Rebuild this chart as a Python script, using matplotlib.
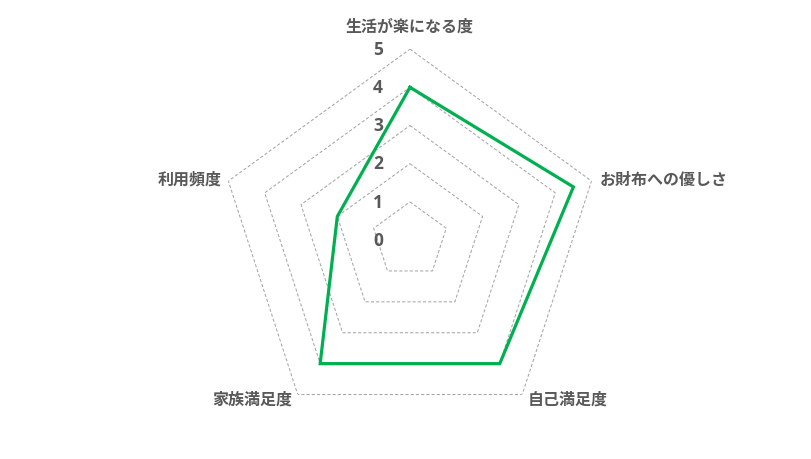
import numpy as np
import matplotlib
matplotlib.use("Agg")
import matplotlib.pyplot as plt

plt.rcParams['font.family'] = ['Noto Sans CJK JP', 'DejaVu Sans']

categories = ["生活が楽になる度", "お財布への優しさ", "自己満足度", "家族満足度", "利用頻度"]
values = [4, 4.5, 4, 4, 2]
levels = [1, 2, 3, 4, 5]
tick_labels = ["0", "1", "2", "3", "4", "5"]

fig = plt.figure(figsize=(8.11, 4.59), dpi=100)
ax = fig.add_axes([0.270, 0.061, 0.471, 0.832], projection='polar')
ax.set_theta_offset(np.pi / 2)
ax.set_theta_direction(-1)
ax.set_ylim(0, 5)
ax.grid(False)
ax.spines['polar'].set_visible(False)
ax.set_xticks([])
ax.set_yticks([])

n = len(categories)
angles = np.linspace(0, 2 * np.pi, n, endpoint=False)
closed = np.concatenate([angles, angles[:1]])

for lv in levels:
    ax.plot(closed, [lv] * (n + 1), color='#A6A6A6', lw=0.75,
            ls=(0, (3, 2)), zorder=1)

vals = list(values) + [values[0]]
ax.plot(closed, vals, color='#00B050', lw=2.3, zorder=3, solid_joinstyle='miter')

txt = '#595959'
fs = 11.5
offsets = [((0, 16), 'center', 'center'),
           ((6, 1), 'left', 'center'),
           ((4.3, -3.8), 'left', 'center'),
           ((-3.6, -3.8), 'right', 'center'),
           ((-4.5, 1), 'right', 'center')]
for a, lab, (off, ha, va) in zip(angles, categories, offsets):
    ax.annotate(lab, xy=(a, 5), xytext=off, textcoords='offset points',
                ha=ha, va=va, fontsize=fs, fontweight='bold', color=txt,
                annotation_clip=False)

for i, t in enumerate(tick_labels):
    ax.annotate(t, xy=(0, i), xytext=(-23, -0.5), textcoords='offset points',
                ha='center', va='center', fontsize=12.5, fontweight='bold',
                family=['Open Sans', 'DejaVu Sans'],
                color=txt, annotation_clip=False)

fig.savefig('out.png', dpi=100)
